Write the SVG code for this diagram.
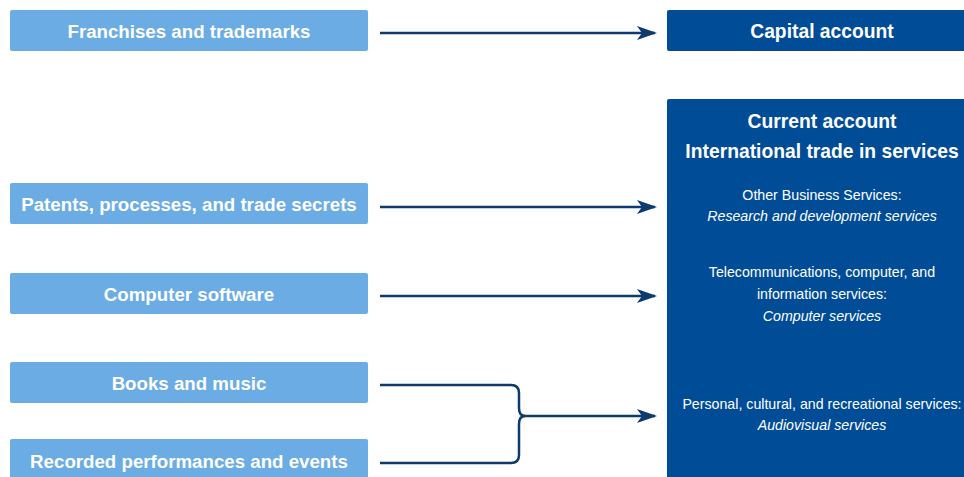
<svg xmlns="http://www.w3.org/2000/svg" width="964" height="477" viewBox="0 0 964 477">
<defs>
<style>
.src rect{fill:#6CACE4;}
.src text{fill:#fff;font-family:"Liberation Sans",Arial,sans-serif;font-weight:bold;font-size:18.7px;text-anchor:middle;}
.dst rect{fill:#004C97;}
.dst text{fill:#fff;font-family:"Liberation Sans",Arial,sans-serif;text-anchor:middle;}
.h{font-weight:bold;font-size:19.3px;}
.s{font-size:14.2px;}
.i{font-size:14.2px;font-style:italic;}
.conn path{fill:none;stroke:#0D3B6E;stroke-width:2.5;}
</style>
<marker id="ah" viewBox="0 0 20 14" refX="18" refY="7" markerWidth="20" markerHeight="14" markerUnits="userSpaceOnUse" orient="auto">
<path d="M0,0 L20,7 L0,14 L5,7 Z" fill="#0D3B6E"/>
</marker>
</defs>
<rect width="964" height="477" fill="#fff"/>
<g id="franchises" class="src"><rect x="10" y="10" width="358" height="41" rx="2"/><text x="189" y="38">Franchises and trademarks</text></g>
<g id="patents" class="src"><rect x="10" y="183" width="358" height="41" rx="2"/><text x="189" y="211">Patents, processes, and trade secrets</text></g>
<g id="software" class="src"><rect x="10" y="273" width="358" height="41" rx="2"/><text x="189" y="301">Computer software</text></g>
<g id="books" class="src"><rect x="10" y="362" width="358" height="41" rx="2"/><text x="189" y="390">Books and music</text></g>
<g id="recorded" class="src"><rect x="10" y="439" width="358" height="41" rx="2"/><text x="189" y="468">Recorded performances and events</text></g>
<g id="capital" class="dst"><rect x="667" y="10" width="310" height="41" rx="2"/><text class="h" x="822" y="38">Capital account</text></g>
<g id="current" class="dst"><rect x="667" y="99" width="310" height="390" rx="2"/>
<text class="h" x="822" y="128">Current account</text>
<text class="h" x="822" y="158">International trade in services</text>
<text class="s" x="822" y="200">Other Business Services:</text>
<text class="i" x="822" y="221">Research and development services</text>
<text class="s" x="822" y="277">Telecommunications, computer, and</text>
<text class="s" x="822" y="299">information services:</text>
<text class="i" x="822" y="321">Computer services</text>
<text class="s" x="822" y="409">Personal, cultural, and recreational services:</text>
<text class="i" x="822" y="430">Audiovisual services</text>
</g>
<g id="connectors" class="conn">
<path d="M380,33 H655" marker-end="url(#ah)"/>
<path d="M380,207 H655" marker-end="url(#ah)"/>
<path d="M380,296 H655" marker-end="url(#ah)"/>
<path d="M380,385 H511 Q519,385 519,393 V408 Q519,416 525,416 M380,463 H511 Q519,463 519,455 V424 Q519,416 525,416"/>
<path d="M522,416 H655" marker-end="url(#ah)"/>
</g>
</svg>
